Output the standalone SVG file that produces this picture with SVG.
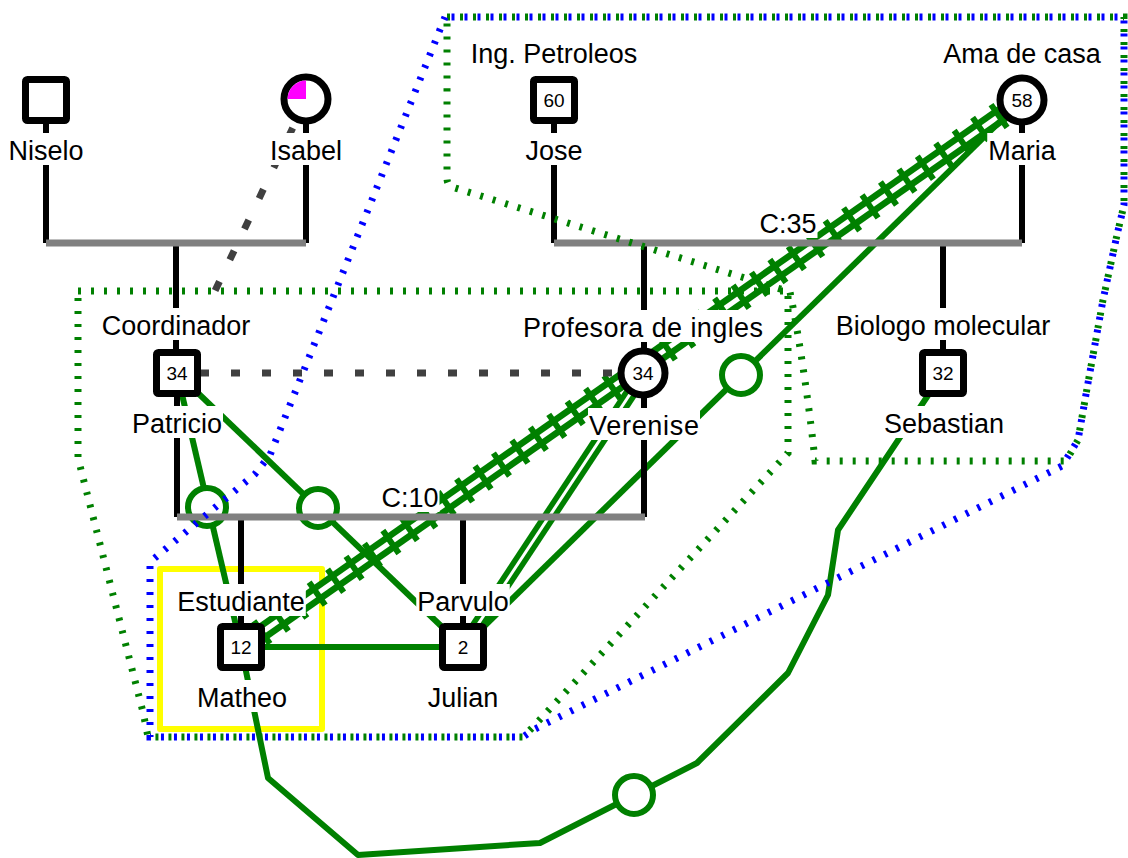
<svg xmlns="http://www.w3.org/2000/svg" width="1128" height="858" viewBox="0 0 1128 858">
<style>
.fam{stroke:#000;stroke-width:6;fill:none}
.cpl{stroke:#808080;stroke-width:7;fill:none}
.rel{stroke:#008000;stroke-width:6;fill:none;stroke-linejoin:round}
.ring{stroke:#008000;stroke-width:6;fill:#fff}
.dash{stroke:#404040;stroke-width:7;fill:none}
.gdot{stroke:#008000;stroke-width:7;fill:none;stroke-dasharray:3 10}
.bdot{stroke:#0000ff;stroke-width:7;fill:none;stroke-dasharray:3 10}
.male{fill:#fff;stroke:#000;stroke-width:7;stroke-linejoin:round}
.female{fill:#fff;stroke:#000;stroke-width:7}
.lbg{fill:#fff}
text{font-family:"Liberation Sans",Arial,sans-serif;fill:#000}
.lbl{font-size:27px;text-anchor:middle}
.age{font-size:19px;text-anchor:middle}
</style>

<rect id="highlight" x="160" y="569" width="162" height="160" fill="none" stroke="#ffff00" stroke-width="6" stroke-linejoin="round"/>

<g id="connectors">
  <g id="rel-matheo-maria">
    <line x1="241" y1="647" x2="1022" y2="100" stroke="#008000" stroke-width="18"/>
    <line x1="241" y1="647" x2="1022" y2="100" stroke="#fff" stroke-width="5"/>
    <line x1="241" y1="647" x2="1022" y2="100" stroke="#008000" stroke-width="28" stroke-dasharray="6 16.5"/>
  </g>
  <g id="rel-julian-verenise">
    <line x1="463" y1="647" x2="644" y2="373" stroke="#008000" stroke-width="14"/>
    <line x1="463" y1="647" x2="644" y2="373" stroke="#fff" stroke-width="3"/>
  </g>
  <line id="rel-julian-maria" class="rel" x1="463" y1="647" x2="1022" y2="100"/>
  <circle class="ring" cx="741" cy="375" r="19"/>
  <line id="rel-patricio-matheo" class="rel" x1="177" y1="373" x2="241" y2="647"/>
  <circle class="ring" cx="207" cy="507" r="19"/>
  <line id="rel-patricio-julian" class="rel" x1="177" y1="373" x2="463" y2="647"/>
  <circle class="ring" cx="318" cy="508" r="19"/>
  <line id="rel-matheo-julian" class="rel" x1="241" y1="647" x2="463" y2="647"/>
  <path id="rel-matheo-sebastian" class="rel" d="M241,647 L268,778 L358,855 L540,843 L697,763 L788,673 L828,595 L838,530 L943,373"/>
  <circle class="ring" cx="634" cy="795" r="19"/>
  <line id="rel-isabel-patricio" class="dash" x1="292.7" y1="128" x2="212" y2="297" stroke-dasharray="10 24"/>
  <line id="rel-patricio-verenise" class="dash" x1="200" y1="373" x2="620" y2="373" stroke-dasharray="9 22"/>

  <path class="fam" d="M46,124 V243 M306,124 V243 M176,243 V350"/>
  <path class="cpl" d="M46,243 H306"/>
  <path class="fam" d="M554,124 V243 M1022,124 V243 M644,243 V350 M943,243 V350"/>
  <path class="cpl" d="M554,243 H1022"/>
  <path class="fam" d="M177,397 V517 M644,397 V517 M241,517 V623 M463,517 V623"/>
  <path class="cpl" d="M177,517 H645"/>

  <path id="zone-green-1" class="gdot" d="M78,291 H788 V453 L533,727 L523,737 H148 L143,712 L78,458 Z"/>
  <path id="zone-green-2" class="gdot" d="M447,17 H1124 V205 L1117,235 L1103,300 L1088,383 L1078,440 L1066,461 H815 C811,420 800,340 790,292 L452,187 Q447,185 447,178 Z"/>
  <path id="zone-blue" class="bdot" stroke-dashoffset="6.5" d="M445,17 H1124 V205 L1117,235 L1103,300 L1088,383 L1078,440 L1062,466 L1050,472 L533,730 L523,737 H150 V562 L255,474 L270,455 Z"/>
</g>

<g id="node-niselo">
  <rect class="male" x="25.5" y="79.5" width="41" height="41" rx="2"/>
  <rect class="lbg" x="7.5" y="133" width="77" height="32"/>
  <text class="lbl" x="46" y="160">Niselo</text>
</g>
<g id="node-isabel">
  <circle class="female" cx="306" cy="99" r="22"/>
  <path d="M306,99 H287.5 A18.5,18.5 0 0 1 306,80.5 Z" fill="#ff00ff"/>
  <rect class="lbg" x="269" y="133" width="74" height="32"/>
  <text class="lbl" x="306" y="160">Isabel</text>
</g>
<g id="node-jose">
  <rect class="lbg" x="469.75" y="36" width="168.5" height="32"/>
  <text class="lbl" x="554" y="63">Ing. Petroleos</text>
  <rect class="male" x="533.5" y="79.5" width="41" height="41" rx="2"/>
  <text class="age" x="554" y="107">60</text>
  <rect class="lbg" x="524.5" y="133" width="59" height="32"/>
  <text class="lbl" x="554" y="160">Jose</text>
</g>
<g id="node-maria">
  <rect class="lbg" x="942.2" y="36" width="159.6" height="32"/>
  <text class="lbl" x="1022" y="63">Ama de casa</text>
  <circle class="female" cx="1022" cy="100" r="22"/>
  <text class="age" x="1022" y="107">58</text>
  <rect class="lbg" x="987.25" y="133" width="69.5" height="32"/>
  <text class="lbl" x="1022" y="160">Maria</text>
</g>
<g id="node-patricio">
  <rect class="lbg" x="100.7" y="308" width="150.6" height="32"/>
  <text class="lbl" x="176" y="335">Coordinador</text>
  <rect class="male" x="156.5" y="352.5" width="41" height="41" rx="2"/>
  <text class="age" x="177" y="380">34</text>
  <rect class="lbg" x="131" y="406" width="92" height="32"/>
  <text class="lbl" x="177" y="433">Patricio</text>
</g>
<g id="node-verenise">
  <rect class="lbg" x="522" y="310" width="242" height="32"/>
  <text class="lbl" x="643" y="337" textLength="240" lengthAdjust="spacing">Profesora de ingles</text>
  <circle class="female" cx="643" cy="373" r="22"/>
  <text class="age" x="643" y="380">34</text>
  <rect class="lbg" x="588" y="408" width="112" height="32"/>
  <text class="lbl" x="644" y="435" textLength="110" lengthAdjust="spacing">Verenise</text>
</g>
<g id="node-sebastian">
  <rect class="lbg" x="834.7" y="308" width="216.6" height="32"/>
  <text class="lbl" x="943" y="335">Biologo molecular</text>
  <rect class="male" x="922.5" y="352.5" width="41" height="41" rx="2"/>
  <text class="age" x="943" y="380">32</text>
  <rect class="lbg" x="883" y="406" width="122" height="32"/>
  <text class="lbl" x="944" y="433">Sebastian</text>
</g>
<g id="node-matheo">
  <rect class="lbg" x="176.2" y="584" width="129.6" height="32"/>
  <text class="lbl" x="241" y="611">Estudiante</text>
  <rect class="male" x="220.5" y="626.5" width="41" height="41" rx="2"/>
  <text class="age" x="241" y="654">12</text>
  <rect class="lbg" x="196" y="680" width="92" height="32"/>
  <text class="lbl" x="242" y="707">Matheo</text>
</g>
<g id="node-julian">
  <rect class="lbg" x="416.25" y="584" width="93.5" height="32"/>
  <text class="lbl" x="463" y="611">Parvulo</text>
  <rect class="male" x="442.5" y="626.5" width="41" height="41" rx="2"/>
  <text class="age" x="463" y="654">2</text>
  <rect class="lbg" x="426.75" y="680" width="72.5" height="32"/>
  <text class="lbl" x="463" y="707">Julian</text>
</g>
<g id="couple-labels">
  <rect class="lbg" x="758.5" y="206" width="59" height="32"/>
  <text class="lbl" x="788" y="233">C:35</text>
  <rect class="lbg" x="380.5" y="480" width="59" height="32"/>
  <text class="lbl" x="410" y="507">C:10</text>
</g>
</svg>
